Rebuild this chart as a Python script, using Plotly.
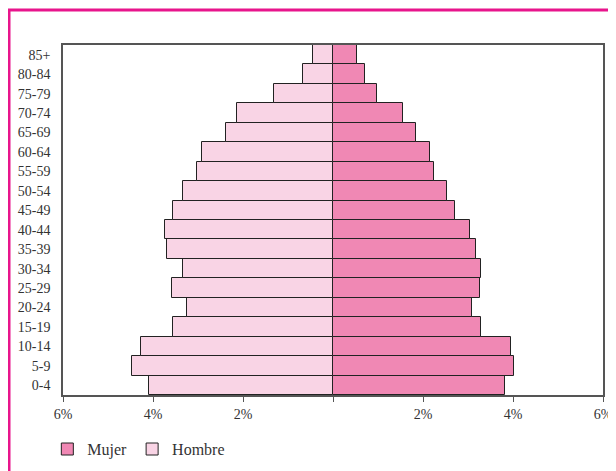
import plotly.graph_objects as go

age_groups = ["0-4", "5-9", "10-14", "15-19", "20-24", "25-29", "30-34", "35-39",
              "40-44", "45-49", "50-54", "55-59", "60-64", "65-69", "70-74",
              "75-79", "80-84", "85+"]
mujer = [3.82, 4.03, 3.96, 3.28, 3.08, 3.27, 3.29, 3.18, 3.04, 2.71, 2.53,
         2.24, 2.15, 1.84, 1.56, 0.98, 0.70, 0.53]
hombre = [4.08, 4.46, 4.26, 3.56, 3.24, 3.57, 3.33, 3.70, 3.73, 3.55, 3.34,
          3.03, 2.91, 2.38, 2.13, 1.31, 0.67, 0.45]
tick_vals = [-6, -4, -2, 0, 2, 4, 6]
tick_text = ["6%", "4%", "2%", "", "2%", "4%", "6%"]

font_family = "Liberation Serif, DejaVu Serif, serif"

fig = go.Figure()
fig.add_trace(go.Bar(
    y=age_groups, x=mujer, orientation="h", name="Mujer",
    marker=dict(color="#F088B4", line=dict(color="#222222", width=1)),
))
fig.add_trace(go.Bar(
    y=age_groups, x=[-v for v in hombre], orientation="h", name="Hombre",
    marker=dict(color="#F9D4E5", line=dict(color="#222222", width=1)),
))

# The page body has an 8px default margin, so the figure is sized 608x463
fig.update_layout(
    width=608, height=463,
    margin=dict(l=55, r=13, t=37, b=76, autoexpand=False),
    paper_bgcolor="white", plot_bgcolor="white",
    barmode="relative", bargap=0,
    font=dict(family=font_family, size=14, color="#333333"),
    showlegend=True,
    legend=dict(orientation="h", x=-0.029, y=-0.106, xanchor="left", yanchor="top",
                font=dict(family=font_family, size=16, color="#333333"),
                itemwidth=30, traceorder="normal"),
    xaxis=dict(range=[-6, 6], tickvals=tick_vals, ticktext=tick_text,
               showgrid=False, zeroline=False, ticks="outside", ticklen=5,
               tickcolor="#555555", showline=True, linecolor="#555555",
               linewidth=1.5, mirror=True, fixedrange=True,
               ticklabelstandoff=0,
               tickfont=dict(family=font_family, size=14, color="#333333")),
    yaxis=dict(showgrid=False, zeroline=False, ticks="", showline=True,
               linecolor="#555555", linewidth=1.5, mirror=True,
               categoryorder="array", categoryarray=age_groups,
               tickfont=dict(family=font_family, size=14, color="#333333"),
               ticklabelstandoff=8),
    shapes=[dict(type="rect", xref="paper", yref="paper",
                 x0=-0.1, x1=1.04, y0=-0.25, y1=1.1,
                 line=dict(color="#E8158C", width=3), layer="below")],
)

fig.write_html("out.html")
